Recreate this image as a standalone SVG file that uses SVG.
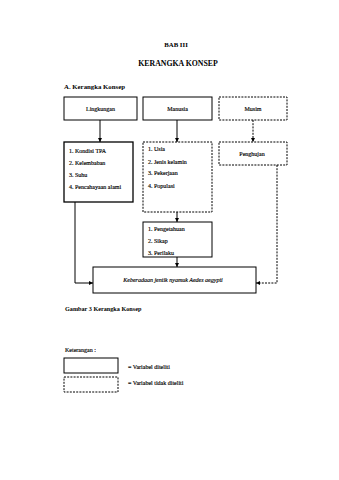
<svg xmlns="http://www.w3.org/2000/svg" width="339" height="480" viewBox="0 0 339 480">
<style>
text{font-family:"Liberation Serif","Times New Roman",serif;fill:#000}
.t{font-weight:bold}
.b{font-size:6px;stroke:#000;stroke-width:0.15}
.box{fill:#fff;stroke:#000;stroke-width:1}
.thick{stroke-width:1.3}
.dash{fill:#fff;stroke:#000;stroke-width:1;stroke-dasharray:2,1.2}
.ln{fill:none;stroke:#000;stroke-width:1}
.dl{fill:none;stroke:#000;stroke-width:1;stroke-dasharray:2,1.2}
</style>
<defs>
<marker id="ah" viewBox="0 0 6 6" refX="6" refY="3" markerWidth="4" markerHeight="4" orient="auto" markerUnits="userSpaceOnUse">
<path d="M0,0 L6,3 L0,6 Z" fill="#000"/>
</marker>
</defs>
<rect width="339" height="480" fill="#fff"/>
<text class="t" x="176" y="47" font-size="6.8" text-anchor="middle">BAB III</text>
<text class="t" x="178" y="66" font-size="7.8" text-anchor="middle">KERANGKA KONSEP</text>
<text class="t" x="64" y="89" font-size="6.8">A. Kerangka Konsep</text>

<g id="connectors">
<line class="ln" x1="100" y1="120" x2="100" y2="142" marker-end="url(#ah)"/>
<line class="ln" x1="177" y1="120" x2="177" y2="142" marker-end="url(#ah)"/>
<line class="dl" x1="253" y1="120" x2="253" y2="142" marker-end="url(#ah)"/>
<line class="ln" x1="177" y1="212" x2="177" y2="222" marker-end="url(#ah)"/>
<line class="ln" x1="177" y1="257" x2="177" y2="267" marker-end="url(#ah)"/>
<polyline class="ln" points="75,202 75,283 93,283" marker-end="url(#ah)"/>
<polyline class="dl" points="277,165 277,283 256,283" marker-end="url(#ah)"/>
</g>

<g id="lingkungan">
<rect class="box" x="64" y="97" width="73" height="23"/>
<text class="b" x="100.5" y="110.5" text-anchor="middle">Lingkungan</text>
</g>
<g id="manusia">
<rect class="box" x="143" y="97" width="69" height="23"/>
<text class="b" x="177.5" y="110.5" text-anchor="middle">Manusia</text>
</g>
<g id="musim">
<rect class="dash" x="219" y="97" width="68" height="23"/>
<text class="b" x="253" y="110.5" text-anchor="middle">Musim</text>
</g>
<g id="lingkungan-var">
<rect class="box thick" x="64" y="142" width="69" height="60"/>
<text class="b" x="69" y="153">1. Kondisi TPA</text>
<text class="b" x="69" y="165">2. Kelembaban</text>
<text class="b" x="69" y="177">3. Suhu</text>
<text class="b" x="69" y="189">4. Pencahayaan alami</text>
</g>
<g id="manusia-var">
<rect class="dash" x="143" y="142" width="69" height="70"/>
<text class="b" x="148" y="151">1. Usia</text>
<text class="b" x="148" y="164">2. Jenis kelamin</text>
<text class="b" x="148" y="175">3. Pekerjaan</text>
<text class="b" x="148" y="188">4. Populasi</text>
</g>
<g id="penghujan">
<rect class="dash" x="219" y="142" width="68" height="23"/>
<text class="b" x="252" y="156" text-anchor="middle">Penghujan</text>
</g>
<g id="perilaku">
<rect class="box" x="143" y="222" width="69" height="35"/>
<text class="b" x="148" y="231">1. Pengetahuan</text>
<text class="b" x="148" y="243">2. Sikap</text>
<text class="b" x="148" y="255">3. Perilaku</text>
</g>
<g id="jentik">
<rect class="box" x="93" y="267" width="163" height="26"/>
<text class="b" x="173" y="282" text-anchor="middle" font-style="italic">Keberadaan jentik nyamuk Aedes aegypti</text>
</g>

<text class="t" x="65" y="311" font-size="6.2">Gambar 3 Kerangka Konsep</text>

<g id="legend">
<text class="b" x="65" y="352">Keterangan :</text>
<rect class="box" x="64" y="358" width="54" height="15"/>
<text class="b" x="128" y="369">= Variabel  diteliti</text>
<rect class="dash" x="64" y="377" width="54" height="15"/>
<text class="b" x="128" y="385">= Variabel tidak  diteliti</text>
</g>
</svg>
